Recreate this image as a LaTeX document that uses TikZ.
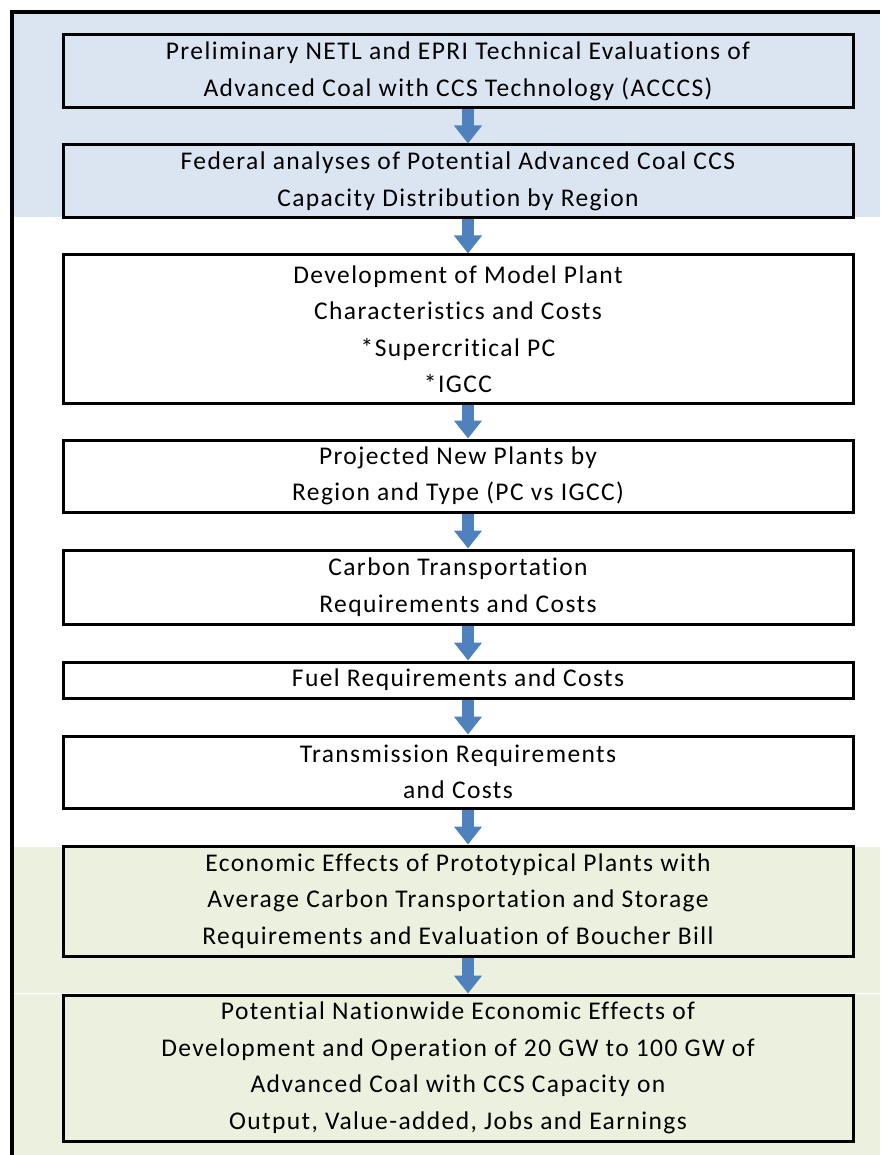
\documentclass[tikz,border=0pt]{standalone}
\usepackage{fontspec}
\setmainfont{Carlito}[Ligatures={NoCommon}, LetterSpace=5.5]
\usetikzlibrary{arrows.meta}
\definecolor{bgblue}{HTML}{DBE5F1}
\definecolor{bggreen}{HTML}{EBF1DE}
\definecolor{arrowblue}{HTML}{4F81BD}
\pgfdeclarelayer{back}
\pgfdeclarelayer{mid}
\pgfsetlayers{back,mid,main}
\begin{document}
\begin{tikzpicture}[x=1pt,y=-1pt,
  stepbox/.style={draw=black, line width=3pt, minimum width=790pt, inner sep=0pt,
    align=center, font=\fontsize{25.5}{36.5}\selectfont},
  flowarrow/.style={draw=arrowblue, line width=12pt, -{Triangle[width=27pt,length=18pt]}},
  frameline/.style={draw=black, line width=3.5pt}
]
\useasboundingbox (0,0) rectangle (880,1155);
\begin{pgfonlayer}{back}
  \fill[white] (0,0) rectangle (880,1155);
  \fill[bgblue] (12,12) rectangle (880,217);
  \fill[bggreen] (12,847) rectangle (880,1155);
  \draw[white, line width=1pt] (12,993) -- (880,993);
  \draw[frameline] (12,1155) -- (12,12) -- (880,12);
\end{pgfonlayer}

\node[stepbox, minimum height=73pt] (b1) at (458,71.5)
  {Preliminary NETL and EPRI Technical Evaluations of\\Advanced Coal with CCS Technology (ACCCS)};
\node[stepbox, minimum height=73pt] (b2) at (458,181.5)
  {Federal analyses of Potential Advanced Coal CCS\\Capacity Distribution by Region};
\node[stepbox, minimum height=148pt] (b3) at (458,329)
  {Development of Model Plant\\Characteristics and Costs\\*Supercritical PC\\*IGCC};
\node[stepbox, minimum height=72pt] (b4) at (458,476)
  {Projected New Plants by\\Region and Type (PC vs IGCC)};
\node[stepbox, minimum height=74pt] (b5) at (458,587)
  {Carbon Transportation\\Requirements and Costs};
\node[stepbox, minimum height=36pt] (b6) at (458,680)
  {Fuel Requirements and Costs};
\node[stepbox, minimum height=72pt] (b7) at (458,772)
  {Transmission Requirements\\and Costs};
\node[stepbox, minimum height=110pt] (b8) at (458,901)
  {Economic Effects of Prototypical Plants with\\Average Carbon Transportation and Storage\\Requirements and Evaluation of Boucher Bill};
\node[stepbox, minimum height=146pt] (b9) at (458,1068)
  {Potential Nationwide Economic Effects of\\Development and Operation of 20 GW to 100 GW of\\Advanced Coal with CCS Capacity on\\Output, Value-added, Jobs and Earnings};

\begin{pgfonlayer}{mid}
  \foreach \a/\b in {b1/b2,b2/b3,b3/b4,b4/b5,b5/b6,b6/b7,b7/b8,b8/b9}
    \draw[flowarrow] ([xshift=10pt]\a.south) -- ([xshift=10pt]\b.north);
\end{pgfonlayer}
\end{tikzpicture}
\end{document}
